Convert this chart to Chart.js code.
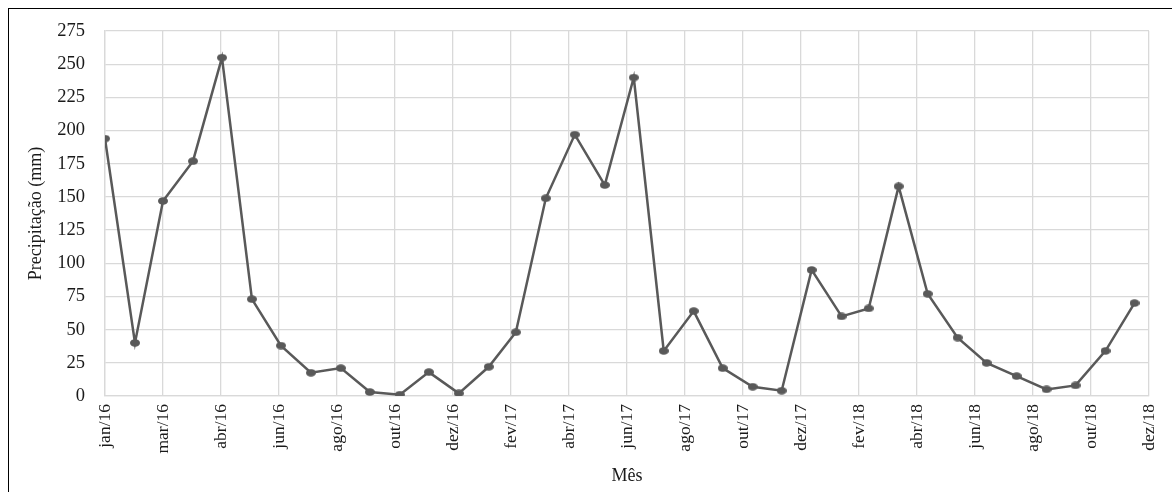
<!DOCTYPE html>
<html>
<head>
<meta charset="utf-8">
<title>Precipitação mensal</title>
<script src="https://cdn.jsdelivr.net/npm/chart.js"></script>
<style>
  body { margin: 0; background: #fff; }
  .quadro { position: relative; width: 1172px; height: 492px; overflow: hidden; }
  .borda {
    position: absolute; left: 8px; top: 8px; width: 1200px; height: 520px;
    border-left: 1px solid #000; border-top: 1px solid #000; pointer-events: none;
  }
  canvas { position: absolute; left: 0; top: 0; }
</style>
</head>
<body>
<div class="quadro">
  <canvas id="grafico" width="1172" height="492"></canvas>
  <div class="borda"></div>
</div>
<script>
// Meses das observações (primeiro dia de cada mês)
const meses = [
  '2016-01', '2016-02', '2016-03', '2016-04', '2016-05', '2016-06',
  '2016-07', '2016-08', '2016-09', '2016-10', '2016-11', '2016-12',
  '2017-01', '2017-02', '2017-03', '2017-04', '2017-05', '2017-06',
  '2017-07', '2017-08', '2017-09', '2017-10', '2017-11', '2017-12',
  '2018-01', '2018-02', '2018-03', '2018-04', '2018-05', '2018-06',
  '2018-07', '2018-08', '2018-09', '2018-10', '2018-11', '2018-12'
];

// Precipitação (mm)
const precipitacao = [
  194, 40, 147, 177, 255, 73, 38, 17.5, 21, 3, 1, 18,
  2, 22, 48, 149, 197, 159, 240, 34, 64, 21, 7, 4,
  95, 60, 66, 158, 77, 44, 25, 15, 5, 8, 34, 70
];

// Rótulos do eixo X (um a cada 60 dias, como no Excel)
const rotulosX = [
  'jan/16', 'mar/16', 'abr/16', 'jun/16', 'ago/16', 'out/16', 'dez/16',
  'fev/17', 'abr/17', 'jun/17', 'ago/17', 'out/17', 'dez/17',
  'fev/18', 'abr/18', 'jun/18', 'ago/18', 'out/18', 'dez/18'
];
const passoDias = 60;

const inicio = Date.parse('2016-01-01');
const pontos = meses.map((m, i) => ({
  x: (Date.parse(m + '-01') - inicio) / 86400000,
  y: precipitacao[i]
}));

const fonte = "'Liberation Serif', 'Times New Roman', serif";
const corLinha = '#595959';
const corGrade = '#d9d9d9';

// marcador levemente elíptico
const marcador = document.createElement('canvas');
marcador.width = 10;
marcador.height = 8;
const mctx = marcador.getContext('2d');
mctx.fillStyle = corLinha;
mctx.beginPath();
mctx.ellipse(5, 4, 5, 3.8, 0, 0, Math.PI * 2);
mctx.fill();

const ctx = document.getElementById('grafico').getContext('2d');
new Chart(ctx, {
  type: 'line',
  data: {
    datasets: [{
      label: 'Precipitação',
      data: pontos,
      borderColor: corLinha,
      backgroundColor: corLinha,
      borderWidth: 2.5,
      pointStyle: marcador,
      tension: 0,
      fill: false
    }]
  },
  options: {
    responsive: false,
    animation: false,
    events: [],
    layout: { padding: { left: 0, right: 23, top: 29, bottom: 0 } },
    plugins: {
      legend: { display: false },
      tooltip: { enabled: false }
    },
    scales: {
      x: {
        type: 'linear',
        min: 0,
        max: passoDias * (rotulosX.length - 1),
        afterBuildTicks: (scale) => {
          scale.ticks = rotulosX.map((_, i) => ({ value: i * passoDias }));
        },
        afterFit: (scale) => {
          scale.height = 96;
          scale.paddingLeft = 0;
          scale.paddingRight = 0;
        },
        ticks: {
          autoSkip: false,
          minRotation: 90,
          maxRotation: 90,
          padding: 8,
          color: '#1a1a1a',
          font: { family: fonte, size: 17.5 },
          callback: (v) => rotulosX[Math.round(v / passoDias)]
        },
        grid: { color: corGrade, lineWidth: 1.3, drawTicks: false },
        border: { color: corGrade, width: 1.3 },
        title: {
          display: true,
          text: 'Mês',
          color: '#1a1a1a',
          font: { family: fonte, size: 18 },
          padding: { top: 4, bottom: 5 }
        }
      },
      y: {
        min: 0,
        max: 275,
        afterFit: (scale) => { scale.width = 105; },
        ticks: {
          stepSize: 25,
          padding: 20,
          color: '#1a1a1a',
          font: { family: fonte, size: 18.5 }
        },
        grid: { color: corGrade, lineWidth: 1.3, drawTicks: false },
        border: { color: corGrade, width: 1.3 },
        title: {
          display: true,
          text: 'Precipitação (mm)',
          color: '#1a1a1a',
          font: { family: fonte, size: 18 },
          padding: { top: 25, bottom: 4 }
        }
      }
    }
  }
});
</script>
</body>
</html>
